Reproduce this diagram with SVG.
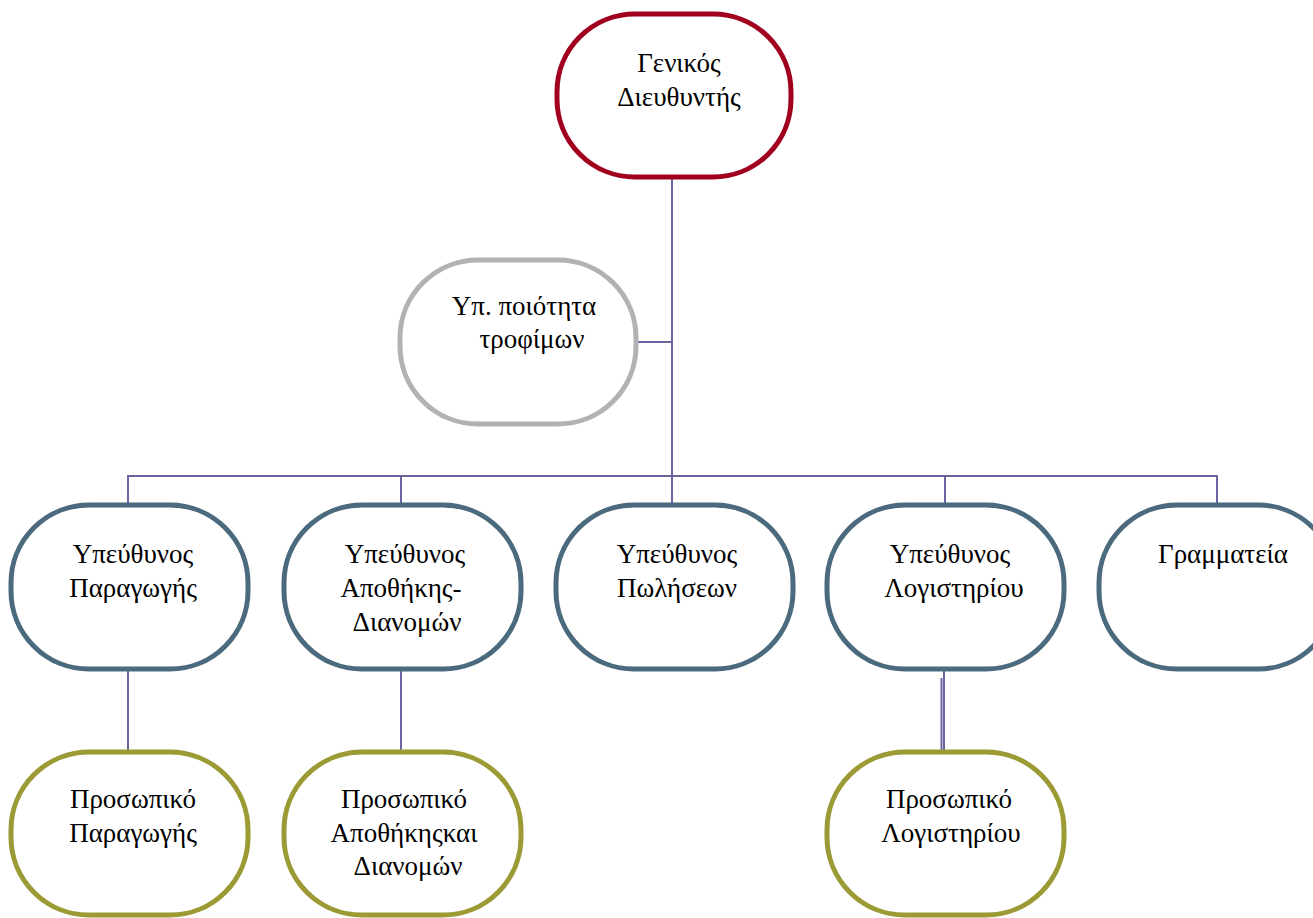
<svg xmlns="http://www.w3.org/2000/svg" width="1313" height="918" viewBox="0 0 1313 918">
  <style>
    .node { fill: #ffffff; stroke-width: 5; }
    .red { stroke: #A0001E; }
    .grey { stroke: #B2B2B2; }
    .blue { stroke: #4B6A7E; }
    .olive { stroke: #9B9A34; }
    .lbl { font-family: "Liberation Serif", "DejaVu Serif", "Times New Roman", serif; font-size: 27px; fill: #000000; text-anchor: middle; }
    .conn { stroke: #6B66A2; stroke-width: 2; fill: none; }
  </style>
  <rect width="1313" height="918" fill="#ffffff"/>

  <!-- connectors -->
  <g id="connectors">
    <line class="conn" x1="672" y1="178" x2="672" y2="476"/>
    <line class="conn" x1="636" y1="342" x2="672" y2="342"/>
    <line class="conn" x1="128" y1="476" x2="1217" y2="476"/>
    <line class="conn" x1="128" y1="475" x2="128" y2="505"/>
    <line class="conn" x1="401" y1="475" x2="401" y2="505"/>
    <line class="conn" x1="672" y1="475" x2="672" y2="505"/>
    <line class="conn" x1="945" y1="475" x2="945" y2="505"/>
    <line class="conn" x1="1217" y1="475" x2="1217" y2="505"/>
    <line class="conn" x1="128" y1="670" x2="128" y2="752"/>
    <line class="conn" x1="401" y1="670" x2="401" y2="752"/>
    <line class="conn" x1="944" y1="670" x2="944" y2="752"/>
    <line class="conn" x1="941.5" y1="678" x2="941.5" y2="752"/>
  </g>

  <g id="general-manager">
    <rect class="node red" x="557" y="14" width="234" height="163" rx="78" ry="78"/>
    <text class="lbl" x="679" y="72">Γενικός</text>
    <text class="lbl" x="679" y="106">Διευθυντής</text>
  </g>

  <g id="food-quality">
    <rect class="node grey" x="400" y="260" width="236" height="164" rx="78" ry="78"/>
    <text class="lbl" x="524" y="315">Υπ. ποιότητα</text>
    <text class="lbl" x="532" y="348">τροφίμων</text>
  </g>

  <g id="production-head">
    <rect class="node blue" x="11" y="505" width="237" height="164" rx="78" ry="78"/>
    <text class="lbl" x="133" y="563">Υπεύθυνος</text>
    <text class="lbl" x="133" y="597">Παραγωγής</text>
  </g>

  <g id="warehouse-head">
    <rect class="node blue" x="284" y="505" width="237" height="164" rx="78" ry="78"/>
    <text class="lbl" x="405" y="563">Υπεύθυνος</text>
    <text class="lbl" x="401" y="597">Αποθήκης-</text>
    <text class="lbl" x="407" y="631">Διανομών</text>
  </g>

  <g id="sales-head">
    <rect class="node blue" x="556" y="505" width="237" height="164" rx="78" ry="78"/>
    <text class="lbl" x="677" y="563">Υπεύθυνος</text>
    <text class="lbl" x="677" y="597">Πωλήσεων</text>
  </g>

  <g id="accounting-head">
    <rect class="node blue" x="827" y="505" width="237" height="164" rx="78" ry="78"/>
    <text class="lbl" x="950" y="563">Υπεύθυνος</text>
    <text class="lbl" x="954" y="597">Λογιστηρίου</text>
  </g>

  <g id="secretariat">
    <rect class="node blue" x="1099" y="505" width="237" height="164" rx="78" ry="78"/>
    <text class="lbl" x="1223" y="563">Γραμματεία</text>
  </g>

  <g id="production-staff">
    <rect class="node olive" x="11" y="752" width="237" height="163" rx="78" ry="78"/>
    <text class="lbl" x="133" y="808">Προσωπικό</text>
    <text class="lbl" x="133" y="842">Παραγωγής</text>
  </g>

  <g id="warehouse-staff">
    <rect class="node olive" x="284" y="752" width="237" height="163" rx="78" ry="78"/>
    <text class="lbl" x="404" y="808">Προσωπικό</text>
    <text class="lbl" x="404" y="842">Αποθήκηςκαι</text>
    <text class="lbl" x="408" y="875">Διανομών</text>
  </g>

  <g id="accounting-staff">
    <rect class="node olive" x="827" y="752" width="237" height="163" rx="78" ry="78"/>
    <text class="lbl" x="949" y="808">Προσωπικό</text>
    <text class="lbl" x="951" y="842">Λογιστηρίου</text>
  </g>
</svg>
